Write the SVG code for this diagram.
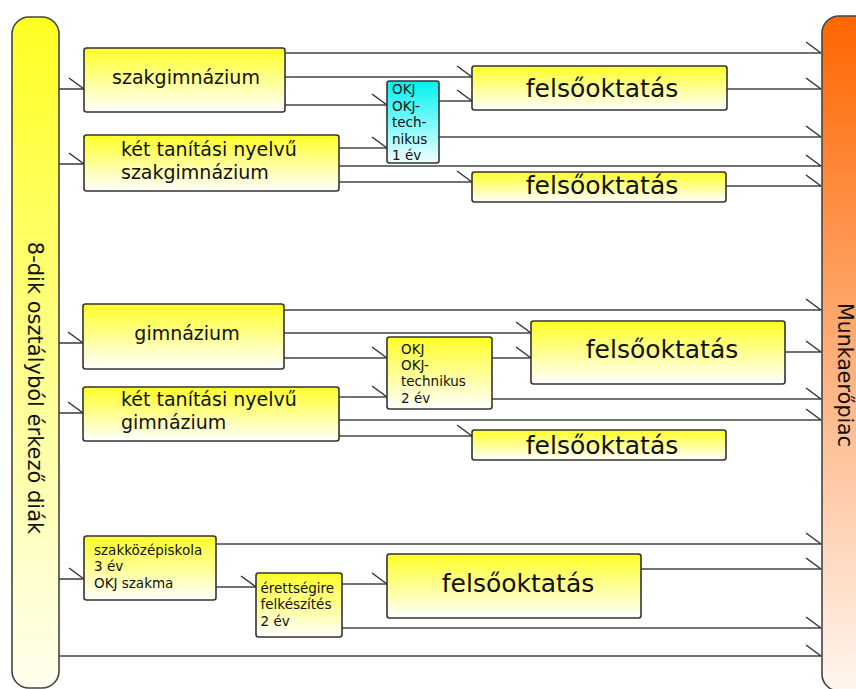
<svg xmlns="http://www.w3.org/2000/svg" width="856" height="689" viewBox="0 0 856 689">
<defs>
<linearGradient id="gy" x1="0" y1="0" x2="0" y2="1"><stop offset="0" stop-color="#ffff26"/><stop offset="1" stop-color="#ffffff"/></linearGradient>
<linearGradient id="gc" x1="0" y1="0" x2="0" y2="1"><stop offset="0" stop-color="#00f2f2"/><stop offset="1" stop-color="#f2ffff"/></linearGradient>
<linearGradient id="gl" x1="0" y1="0" x2="0" y2="1"><stop offset="0" stop-color="#ffff22"/><stop offset="1" stop-color="#fffff0"/></linearGradient>
<linearGradient id="gr" x1="0" y1="0" x2="0" y2="1"><stop offset="0" stop-color="#ff6600"/><stop offset="1" stop-color="#fff6f0"/></linearGradient>
<marker id="ah" viewBox="-17 -13 19 15" markerWidth="19" markerHeight="15" refX="0" refY="0" orient="auto" markerUnits="userSpaceOnUse">
<path d="M-15,-11 L0,0" fill="none" stroke="#333" stroke-width="1.5"/>
</marker>
</defs>
<style>
.box{stroke:#333;stroke-width:1.6;fill:url(#gy)}
.cyan{stroke:#333;stroke-width:1.6;fill:url(#gc)}
.sh{fill:#000;opacity:0.18}
.c{fill:none;stroke:#444;stroke-width:1.6;marker-end:url(#ah)}
.cn{fill:none;stroke:#444;stroke-width:1.6}
text{font-family:"DejaVu Sans","Liberation Sans",sans-serif;fill:#111}
.t19{font-size:19px}
.t25{font-size:25px}
.t13{font-size:13.5px}
</style>
<g id="left-bar">
<rect x="12" y="17" width="47" height="671" rx="17" ry="17" fill="url(#gl)" stroke="#444" stroke-width="1.6"/>
<text transform="translate(28,388) rotate(90)" text-anchor="middle" style="font-size:21px">8-dik osztályból érkező diák</text>
</g>
<g id="right-bar">
<rect x="822" y="16" width="60" height="675" rx="17" ry="17" fill="url(#gr)" stroke="#444" stroke-width="1.6"/>
<text transform="translate(838,375) rotate(90)" text-anchor="middle" style="font-size:20.5px">Munkaerőpiac</text>
</g>
<g id="connectors">
<!-- top group -->
<path class="c" d="M59,89 H84"/>
<path class="c" d="M59,164 H84"/>
<path class="c" d="M285,53 H821"/>
<path class="c" d="M285,77 H472"/>
<path class="c" d="M285,105 H387"/>
<path class="c" d="M439,101 H472"/>
<path class="c" d="M727,89 H821"/>
<path class="c" d="M439,137 H821"/>
<path class="c" d="M339,148 H387"/>
<path class="c" d="M339,166 H821"/>
<path class="c" d="M339,182 H472"/>
<path class="c" d="M726,186 H821"/>
<!-- middle group -->
<path class="c" d="M59,343 H83"/>
<path class="c" d="M59,413 H83"/>
<path class="c" d="M284,310 H821"/>
<path class="c" d="M284,333 H531"/>
<path class="c" d="M284,358 H387"/>
<path class="c" d="M492,358 H531"/>
<path class="c" d="M785,352 H821"/>
<path class="c" d="M492,399 H821"/>
<path class="c" d="M339,397 H387"/>
<path class="c" d="M339,420 H821"/>
<path class="c" d="M339,436 H472"/>
<!-- bottom group -->
<path class="c" d="M59,579 H84"/>
<path class="c" d="M216,544 H821"/>
<path class="c" d="M216,587 H256"/>
<path class="c" d="M342,584 H387"/>
<path class="c" d="M641,569 H821"/>
<path class="c" d="M342,628 H821"/>
<path class="c" d="M59,656 H821"/>
</g>
<g id="szakgimnazium">
<rect class="box" x="84" y="48" width="201" height="64" rx="2.5"/>
<text class="t19" x="186" y="83.5" text-anchor="middle">szakgimnázium</text>
</g>
<g id="ket-tan-szakgim">
<rect class="box" x="84" y="135" width="255" height="56" rx="2.5"/>
<text class="t19" x="121" y="156">két tanítási nyelvű</text>
<text class="t19" x="121" y="179">szakgimnázium</text>
</g>
<g id="okj-1ev">
<rect class="cyan" x="387" y="81" width="52" height="82" rx="2.5"/>
<text class="t13" x="392" y="94">OKJ</text>
<text class="t13" x="392" y="110.5">OKJ-</text>
<text class="t13" x="392" y="127">tech-</text>
<text class="t13" x="392" y="143.5">nikus</text>
<text class="t13" x="392" y="160">1 év</text>
</g>
<g id="felso-1">
<rect class="box" x="472" y="66" width="255" height="44" rx="2.5"/>
<text class="t25" x="602" y="97" text-anchor="middle">felsőoktatás</text>
</g>
<g id="felso-2">
<rect class="box" x="472" y="172" width="254" height="30" rx="2.5"/>
<text class="t25" x="602" y="193.5" text-anchor="middle">felsőoktatás</text>
</g>
<g id="gimnazium">
<rect class="box" x="83" y="304" width="201" height="65" rx="2.5"/>
<text class="t19" x="187" y="339.5" text-anchor="middle">gimnázium</text>
</g>
<g id="ket-tan-gim">
<rect class="box" x="83" y="387" width="256" height="54" rx="2.5"/>
<text class="t19" x="121" y="406">két tanítási nyelvű</text>
<text class="t19" x="121" y="428.5">gimnázium</text>
</g>
<g id="okj-2ev">
<rect class="box" x="387" y="337" width="105" height="72" rx="2.5"/>
<text class="t13" x="401" y="354">OKJ</text>
<text class="t13" x="401" y="370">OKJ-</text>
<text class="t13" x="401" y="386">technikus</text>
<text class="t13" x="401" y="402.5">2 év</text>
</g>
<g id="felso-3">
<rect class="box" x="531" y="321" width="254" height="63" rx="2.5"/>
<text class="t25" x="662" y="357.5" text-anchor="middle">felsőoktatás</text>
</g>
<g id="felso-4">
<rect class="box" x="472" y="430" width="254" height="30" rx="2.5"/>
<text class="t25" x="602" y="454" text-anchor="middle">felsőoktatás</text>
</g>
<g id="szakkozep">
<rect class="box" x="84" y="536" width="132" height="64" rx="2.5"/>
<text class="t13" x="94" y="554.5">szakközépiskola</text>
<text class="t13" x="94" y="571">3 év</text>
<text class="t13" x="94" y="587.5">OKJ szakma</text>
</g>
<g id="erettsegi">
<rect class="box" x="256" y="573" width="86" height="64" rx="2.5"/>
<text class="t13" x="260.5" y="592.5">érettségire</text>
<text class="t13" x="260.5" y="609">felkészítés</text>
<text class="t13" x="260.5" y="626">2 év</text>
</g>
<g id="felso-5">
<rect class="box" x="387" y="554" width="254" height="64" rx="2.5"/>
<text class="t25" x="518" y="592" text-anchor="middle">felsőoktatás</text>
</g>
</svg>
